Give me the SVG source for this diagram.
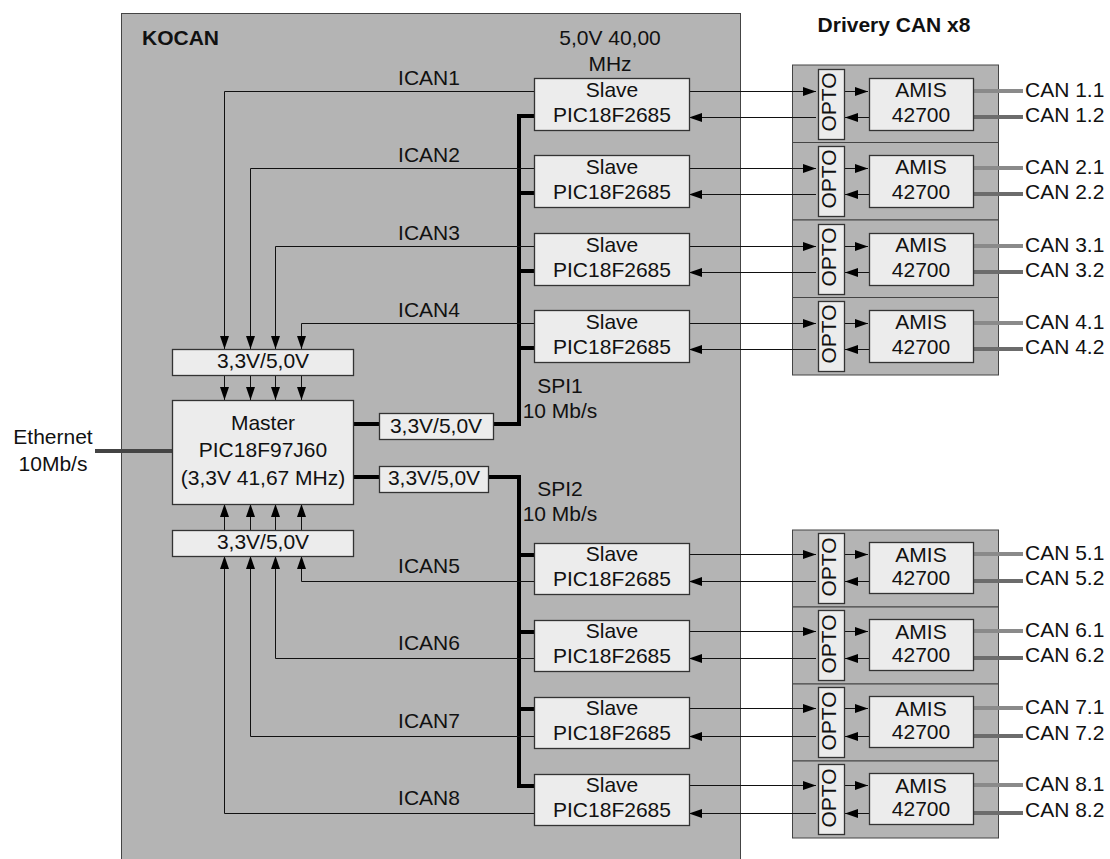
<svg xmlns="http://www.w3.org/2000/svg" width="1110" height="859" viewBox="0 0 1110 859">
<defs>
<marker id="ah" markerUnits="userSpaceOnUse" markerWidth="14" markerHeight="10" refX="13" refY="5" orient="auto">
<path d="M0,0.5 L13,5 L0,9.5 z" fill="#000"/>
</marker>
<style>
text{font-family:"Liberation Sans",Arial,sans-serif;font-size:21px;fill:#111;}
.c{text-anchor:middle;}
.b{font-weight:bold;}
.frame{fill:#b4b4b4;stroke:#444;stroke-width:1;}
.box{fill:#ececec;stroke:#333;stroke-width:1.3;}
.thin{fill:none;stroke:#111;stroke-width:1;}
.arr{fill:none;stroke:#111;stroke-width:1;marker-end:url(#ah);}
.spi{fill:none;stroke:#000;stroke-width:4;}
.can1{stroke:#8a8a8a;stroke-width:4;}
.can2{stroke:#6c6c6c;stroke-width:4;}
</style>
</defs>
<rect width="1110" height="859" fill="#fff"/>

<g id="kocan">
<rect class="frame" x="121.5" y="13.5" width="619" height="860"/>
<text class="b" x="142" y="45">KOCAN</text>
<text class="c" x="610" y="45">5,0V 40,00</text>
<text class="c" x="610" y="71">MHz</text>
</g>
<text id="drivery-title" class="b c" x="894" y="32">Drivery CAN x8</text>

<g id="drivers-panels">
<rect class="frame" x="792.5" y="65" width="206" height="77.5"/>
<rect class="frame" x="792.5" y="142.5" width="206" height="77.5"/>
<rect class="frame" x="792.5" y="220" width="206" height="77.5"/>
<rect class="frame" x="792.5" y="297.5" width="206" height="77.5"/>
<rect class="frame" x="792.5" y="530" width="206" height="77"/>
<rect class="frame" x="792.5" y="607" width="206" height="77"/>
<rect class="frame" x="792.5" y="684" width="206" height="77"/>
<rect class="frame" x="792.5" y="761" width="206" height="77"/>
</g>

<g id="connectors">
<!-- Ethernet -->
<path d="M95,451 H172" stroke="#444" stroke-width="4" fill="none"/>
<!-- SPI buses -->
<path class="spi" d="M353,424 H379 M493,424 H519 V116 H534 M519,193 H534 M519,271 H534 M519,348 H534"/>
<path class="spi" d="M353,477 H379 M488,477 H519 V786 H534 M519,555 H534 M519,632 H534 M519,709 H534"/>
<!-- ICAN upper -->
<path class="arr" d="M534,91.5 H224.5 V349"/>
<path class="arr" d="M534,168.5 H250.5 V349"/>
<path class="arr" d="M534,246.5 H275.5 V349"/>
<path class="arr" d="M534,323.5 H301.5 V349"/>
<path class="arr" d="M224.5,375 V400"/>
<path class="arr" d="M250.5,375 V400"/>
<path class="arr" d="M275.5,375 V400"/>
<path class="arr" d="M301.5,375 V400"/>
<!-- ICAN lower -->
<path class="arr" d="M224.5,530 V504"/>
<path class="arr" d="M250.5,530 V504"/>
<path class="arr" d="M275.5,530 V504"/>
<path class="arr" d="M301.5,530 V504"/>
<path class="arr" d="M534,581.5 H301.5 V556"/>
<path class="arr" d="M534,658.5 H275.5 V556"/>
<path class="arr" d="M534,736.5 H250.5 V556"/>
<path class="arr" d="M534,813.5 H224.5 V556"/>
<!-- Slave <-> OPTO <-> AMIS, CAN lines -->
<g id="link-1">
<path class="arr" d="M689,91.5 H816"/><path class="arr" d="M816,117.5 H689"/>
<path class="arr" d="M844,91.5 H868"/><path class="arr" d="M869,117.5 H845"/>
<path class="can1" d="M973,91 H1023"/><path class="can2" d="M973,117 H1023"/>
</g>
<g id="link-2">
<path class="arr" d="M689,168.5 H816"/><path class="arr" d="M816,194.5 H689"/>
<path class="arr" d="M844,168.5 H868"/><path class="arr" d="M869,194.5 H845"/>
<path class="can1" d="M973,168 H1023"/><path class="can2" d="M973,194 H1023"/>
</g>
<g id="link-3">
<path class="arr" d="M689,246.5 H816"/><path class="arr" d="M816,272.5 H689"/>
<path class="arr" d="M844,246.5 H868"/><path class="arr" d="M869,272.5 H845"/>
<path class="can1" d="M973,246 H1023"/><path class="can2" d="M973,272 H1023"/>
</g>
<g id="link-4">
<path class="arr" d="M689,323.5 H816"/><path class="arr" d="M816,349.5 H689"/>
<path class="arr" d="M844,323.5 H868"/><path class="arr" d="M869,349.5 H845"/>
<path class="can1" d="M973,323 H1023"/><path class="can2" d="M973,349 H1023"/>
</g>
<g id="link-5">
<path class="arr" d="M689,554.5 H816"/><path class="arr" d="M816,581.5 H689"/>
<path class="arr" d="M844,554.5 H868"/><path class="arr" d="M869,581.5 H845"/>
<path class="can1" d="M973,554 H1023"/><path class="can2" d="M973,581 H1023"/>
</g>
<g id="link-6">
<path class="arr" d="M689,631.5 H816"/><path class="arr" d="M816,658.5 H689"/>
<path class="arr" d="M844,631.5 H868"/><path class="arr" d="M869,658.5 H845"/>
<path class="can1" d="M973,631 H1023"/><path class="can2" d="M973,658 H1023"/>
</g>
<g id="link-7">
<path class="arr" d="M689,708.5 H816"/><path class="arr" d="M816,736.5 H689"/>
<path class="arr" d="M844,708.5 H868"/><path class="arr" d="M869,736.5 H845"/>
<path class="can1" d="M973,708 H1023"/><path class="can2" d="M973,736 H1023"/>
</g>
<g id="link-8">
<path class="arr" d="M689,785.5 H816"/><path class="arr" d="M816,813.5 H689"/>
<path class="arr" d="M844,785.5 H868"/><path class="arr" d="M869,813.5 H845"/>
<path class="can1" d="M973,785 H1023"/><path class="can2" d="M973,813 H1023"/>
</g>
</g>

<g id="labels">
<text class="c" x="429" y="85">ICAN1</text>
<text class="c" x="429" y="162">ICAN2</text>
<text class="c" x="429" y="240">ICAN3</text>
<text class="c" x="429" y="317">ICAN4</text>
<text class="c" x="429" y="573">ICAN5</text>
<text class="c" x="429" y="650">ICAN6</text>
<text class="c" x="429" y="728">ICAN7</text>
<text class="c" x="429" y="805">ICAN8</text>
<text class="c" x="560" y="393">SPI1</text>
<text class="c" x="560" y="418">10 Mb/s</text>
<text class="c" x="560" y="496">SPI2</text>
<text class="c" x="560" y="521">10 Mb/s</text>
<text class="c" x="53" y="444">Ethernet</text>
<text class="c" x="53" y="471">10Mb/s</text>
</g>

<g id="level-top">
<rect class="box" x="172.5" y="349.5" width="181" height="26"/>
<text class="c" x="263" y="368">3,3V/5,0V</text>
</g>
<g id="master">
<rect class="box" x="172.5" y="400.5" width="181" height="104"/>
<text class="c" x="263" y="430">Master</text>
<text class="c" x="263" y="457">PIC18F97J60</text>
<text class="c" x="263" y="485">(3,3V 41,67 MHz)</text>
</g>
<g id="level-bottom">
<rect class="box" x="172.5" y="530.5" width="181" height="26"/>
<text class="c" x="263" y="549">3,3V/5,0V</text>
</g>
<g id="level-spi1">
<rect class="box" x="379.5" y="413.5" width="114" height="26"/>
<text class="c" x="436" y="433">3,3V/5,0V</text>
</g>
<g id="level-spi2">
<rect class="box" x="379.5" y="466.5" width="109" height="26"/>
<text class="c" x="434" y="485">3,3V/5,0V</text>
</g>

<g id="slave-1"><rect class="box" x="534.5" y="78.5" width="155" height="52"/><text class="c" x="612" y="97">Slave</text><text class="c" x="612" y="122">PIC18F2685</text></g>
<g id="slave-2"><rect class="box" x="534.5" y="155.5" width="155" height="52"/><text class="c" x="612" y="174">Slave</text><text class="c" x="612" y="199">PIC18F2685</text></g>
<g id="slave-3"><rect class="box" x="534.5" y="233.5" width="155" height="52"/><text class="c" x="612" y="252">Slave</text><text class="c" x="612" y="277">PIC18F2685</text></g>
<g id="slave-4"><rect class="box" x="534.5" y="310.5" width="155" height="52"/><text class="c" x="612" y="329">Slave</text><text class="c" x="612" y="354">PIC18F2685</text></g>
<g id="slave-5"><rect class="box" x="534.5" y="543.5" width="155" height="51"/><text class="c" x="612" y="561">Slave</text><text class="c" x="612" y="586">PIC18F2685</text></g>
<g id="slave-6"><rect class="box" x="534.5" y="620.5" width="155" height="51"/><text class="c" x="612" y="638">Slave</text><text class="c" x="612" y="663">PIC18F2685</text></g>
<g id="slave-7"><rect class="box" x="534.5" y="697.5" width="155" height="51"/><text class="c" x="612" y="715">Slave</text><text class="c" x="612" y="740">PIC18F2685</text></g>
<g id="slave-8"><rect class="box" x="534.5" y="774.5" width="155" height="51"/><text class="c" x="612" y="792">Slave</text><text class="c" x="612" y="817">PIC18F2685</text></g>

<g id="opto-1"><rect class="box" x="818.5" y="69.5" width="26" height="70"/><text class="c" transform="translate(836,102) rotate(-90)">OPTO</text></g>
<g id="opto-2"><rect class="box" x="818.5" y="146.5" width="26" height="70"/><text class="c" transform="translate(836,179) rotate(-90)">OPTO</text></g>
<g id="opto-3"><rect class="box" x="818.5" y="224.5" width="26" height="70"/><text class="c" transform="translate(836,257) rotate(-90)">OPTO</text></g>
<g id="opto-4"><rect class="box" x="818.5" y="301.5" width="26" height="70"/><text class="c" transform="translate(836,334) rotate(-90)">OPTO</text></g>
<g id="opto-5"><rect class="box" x="818.5" y="533.5" width="26" height="70"/><text class="c" transform="translate(836,567) rotate(-90)">OPTO</text></g>
<g id="opto-6"><rect class="box" x="818.5" y="610.5" width="26" height="70"/><text class="c" transform="translate(836,644) rotate(-90)">OPTO</text></g>
<g id="opto-7"><rect class="box" x="818.5" y="687.5" width="26" height="70"/><text class="c" transform="translate(836,721) rotate(-90)">OPTO</text></g>
<g id="opto-8"><rect class="box" x="818.5" y="764.5" width="26" height="70"/><text class="c" transform="translate(836,798) rotate(-90)">OPTO</text></g>

<g id="amis-1"><rect class="box" x="869.5" y="78.5" width="104" height="52"/><text class="c" x="921" y="97">AMIS</text><text class="c" x="921" y="122">42700</text></g>
<g id="amis-2"><rect class="box" x="869.5" y="155.5" width="104" height="52"/><text class="c" x="921" y="174">AMIS</text><text class="c" x="921" y="199">42700</text></g>
<g id="amis-3"><rect class="box" x="869.5" y="233.5" width="104" height="52"/><text class="c" x="921" y="252">AMIS</text><text class="c" x="921" y="277">42700</text></g>
<g id="amis-4"><rect class="box" x="869.5" y="310.5" width="104" height="52"/><text class="c" x="921" y="329">AMIS</text><text class="c" x="921" y="354">42700</text></g>
<g id="amis-5"><rect class="box" x="869.5" y="542.5" width="104" height="51"/><text class="c" x="921" y="562">AMIS</text><text class="c" x="921" y="585">42700</text></g>
<g id="amis-6"><rect class="box" x="869.5" y="619.5" width="104" height="51"/><text class="c" x="921" y="639">AMIS</text><text class="c" x="921" y="662">42700</text></g>
<g id="amis-7"><rect class="box" x="869.5" y="696.5" width="104" height="51"/><text class="c" x="921" y="716">AMIS</text><text class="c" x="921" y="739">42700</text></g>
<g id="amis-8"><rect class="box" x="869.5" y="773.5" width="104" height="51"/><text class="c" x="921" y="793">AMIS</text><text class="c" x="921" y="816">42700</text></g>

<g id="can-labels">
<text x="1025" y="97">CAN 1.1</text><text x="1025" y="122">CAN 1.2</text>
<text x="1025" y="174">CAN 2.1</text><text x="1025" y="199">CAN 2.2</text>
<text x="1025" y="252">CAN 3.1</text><text x="1025" y="277">CAN 3.2</text>
<text x="1025" y="329">CAN 4.1</text><text x="1025" y="354">CAN 4.2</text>
<text x="1025" y="560">CAN 5.1</text><text x="1025" y="585">CAN 5.2</text>
<text x="1025" y="637">CAN 6.1</text><text x="1025" y="662">CAN 6.2</text>
<text x="1025" y="714">CAN 7.1</text><text x="1025" y="740">CAN 7.2</text>
<text x="1025" y="791">CAN 8.1</text><text x="1025" y="817">CAN 8.2</text>
</g>
</svg>
